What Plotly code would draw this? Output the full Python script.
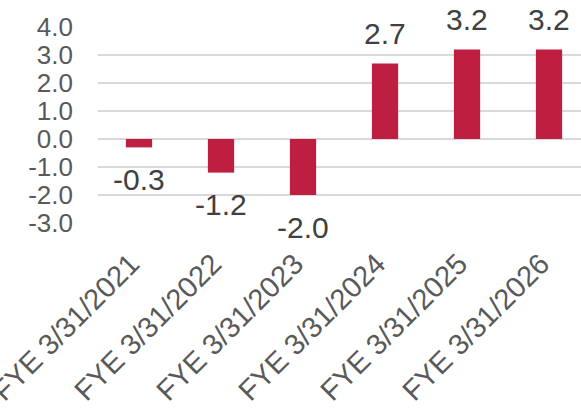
import plotly.graph_objects as go

categories = ["FYE 3/31/2021", "FYE 3/31/2022", "FYE 3/31/2023",
              "FYE 3/31/2024", "FYE 3/31/2025", "FYE 3/31/2026"]
values = [-0.3, -1.2, -2.0, 2.7, 3.2, 3.2]
y_ticks = [4, 3, 2, 1, 0, -1, -2, -3]
y_tick_labels = ["4.0", "3.0", "2.0", "1.0", "0.0", "-1.0", "-2.0", "-3.0"]

BAR_COLOR = "#BE1E40"
FONT = "Liberation Sans, Arial, sans-serif"

fig = go.Figure(go.Bar(
    x=list(range(len(categories))),
    y=values,
    marker=dict(color=BAR_COLOR, line=dict(width=0)),
    width=0.32,
))

# value labels above positive bars, below negative ones
for i, v in enumerate(values):
    fig.add_annotation(
        x=i, y=v, text=f"{v:.1f}", showarrow=False,
        yshift=30 if v >= 0 else -32,
        font=dict(family=FONT, size=30, color="#404040"),
    )

fig.update_layout(
    width=581, height=413,
    margin=dict(l=98, r=0, t=27, b=190, autoexpand=False),
    paper_bgcolor="white", plot_bgcolor="white",
    showlegend=False,
    font=dict(family=FONT),
)
fig.update_xaxes(
    automargin=False,
    range=[-0.5, 5.39],
    tickvals=list(range(len(categories))),
    ticktext=categories,
    tickangle=-45,
    tickfont=dict(family=FONT, size=29, color="#595959"),
    ticklabeloverflow="allow",
    ticklabelshift=-8,
    ticklabelstandoff=17,
    showgrid=False, zeroline=False, showline=False, ticks="",
)
fig.update_yaxes(
    automargin=False,
    range=[-3, 4],
    tickvals=y_ticks,
    ticktext=y_tick_labels,
    tickfont=dict(family=FONT, size=26, color="#595959"),
    ticklabelstandoff=24,
    showgrid=True, gridcolor="#D9D9D9", gridwidth=1.5,
    zeroline=True, zerolinecolor="#D9D9D9", zerolinewidth=1.5,
    showline=False, ticks="",
)

fig.write_html("out.html")
